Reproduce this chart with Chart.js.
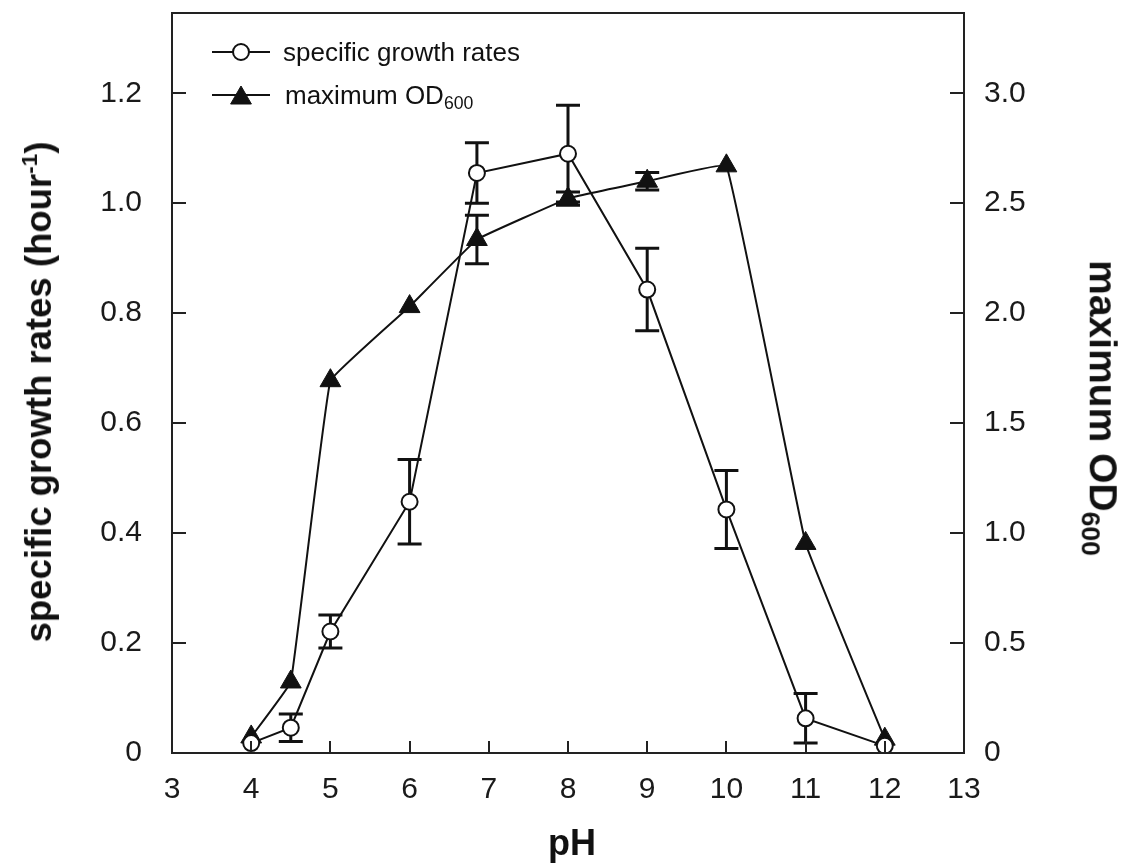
<!DOCTYPE html>
<html><head><meta charset="utf-8">
<script src="https://cdn.jsdelivr.net/npm/chart.js@4.4.1/dist/chart.umd.min.js"></script>
<style>
html,body{margin:0;padding:0;background:#fff;}
#wrap{position:relative;width:1128px;height:865px;overflow:hidden;background:#fff;}
#c{position:absolute;left:0;top:0;}
.t{position:absolute;font-family:"Liberation Sans",Arial,sans-serif;color:#111;white-space:nowrap;line-height:1;}
.ytitle{font-weight:bold;font-size:36.5px;left:38px;top:392px;transform:translate(-50%,-50%) rotate(-90deg);}
.y2title{font-weight:bold;font-size:39px;left:1100px;top:408px;transform:translate(-50%,-50%) rotate(90deg);}
.xtitle{font-weight:bold;font-size:36px;left:572px;top:843px;transform:translate(-50%,-50%);}
.leg{font-size:26px;left:283px;}
sup{font-size:62%;vertical-align:0.6em;}
sub{font-size:68%;vertical-align:-0.3em;}
</style></head>
<body>
<div id="wrap">
<canvas id="c" width="1128" height="865"></canvas>
<div class="t ytitle">specific growth rates (hour<sup>-1</sup>)</div>
<div class="t y2title">maximum OD<sub>600</sub></div>
<div class="t xtitle">pH</div>
<div class="t leg" style="top:39px;">specific growth rates</div>
<div class="t leg" style="top:82px;left:285px;">maximum OD<sub>600</sub></div>
</div>
<script>
// ---- data ----
const phValues = [4, 4.5, 5, 6, 6.85, 8, 9, 10, 11, 12];
const growthRate = [0.018, 0.046, 0.221, 0.457, 1.055, 1.090, 0.843, 0.443, 0.063, 0.013];
const growthRateErr = [0, 0.025, 0.03, 0.077, 0.055, 0.088, 0.075, 0.071, 0.045, 0];
const maxOD = [0.073, 0.323, 1.693, 2.03, 2.335, 2.521, 2.60, 2.67, 0.953, 0.063];
const maxODErr = [0, 0, 0, 0, 0.11, 0.03, 0.04, 0, 0, 0];
const xTicks = [3, 4, 5, 6, 7, 8, 9, 10, 11, 12, 13];
const yTicks = [0, 0.2, 0.4, 0.6, 0.8, 1.0, 1.2];
const y2Ticks = [0, 0.5, 1.0, 1.5, 2.0, 2.5, 3.0];

const FONT = '"Liberation Sans", Arial, sans-serif';
const INK = '#111';

const errorBars = {
  id: 'errorBars',
  beforeDatasetsDraw(chart) {
    const ctx = chart.ctx;
    const x = chart.scales.x;
    const sets = [
      {vals: growthRate, err: growthRateErr, s: chart.scales.y},
      {vals: maxOD, err: maxODErr, s: chart.scales.y2}
    ];
    ctx.save();
    ctx.strokeStyle = INK;
    ctx.lineWidth = 3;
    sets.forEach(d => {
      d.vals.forEach((v, i) => {
        const e = d.err[i];
        if (!e) return;
        const px = x.getPixelForValue(phValues[i]);
        const top = d.s.getPixelForValue(v + e);
        const bot = d.s.getPixelForValue(v - e);
        ctx.beginPath();
        ctx.moveTo(px, top); ctx.lineTo(px, bot);
        ctx.moveTo(px - 12, top); ctx.lineTo(px + 12, top);
        ctx.moveTo(px - 12, bot); ctx.lineTo(px + 12, bot);
        ctx.stroke();
      });
    });
    ctx.restore();
  }
};

const frame = {
  id: 'frame',
  afterDraw(chart) {
    const ctx = chart.ctx;
    const a = chart.chartArea;
    const x = chart.scales.x, y = chart.scales.y, y2 = chart.scales.y2;
    ctx.save();
    ctx.strokeStyle = '#222';
    ctx.lineWidth = 2;
    ctx.strokeRect(a.left, a.top, a.right - a.left, a.bottom - a.top);
    ctx.beginPath();
    xTicks.forEach(t => {
      if (t === xTicks[0] || t === xTicks[xTicks.length - 1]) return;
      const px = Math.round(x.getPixelForValue(t));
      ctx.moveTo(px, a.bottom); ctx.lineTo(px, a.bottom - 12);
    });
    yTicks.forEach(t => {
      if (t === 0) return;
      const py = Math.round(y.getPixelForValue(t));
      ctx.moveTo(a.left, py); ctx.lineTo(a.left + 14, py);
    });
    y2Ticks.forEach(t => {
      if (t === 0) return;
      const py = Math.round(y2.getPixelForValue(t));
      ctx.moveTo(a.right, py); ctx.lineTo(a.right - 14, py);
    });
    ctx.stroke();
    // legend symbols
    ctx.strokeStyle = INK;
    ctx.lineWidth = 2;
    ctx.beginPath();
    ctx.moveTo(212, 52); ctx.lineTo(270, 52);
    ctx.moveTo(212, 95); ctx.lineTo(270, 95);
    ctx.stroke();
    ctx.fillStyle = '#fff'; ctx.strokeStyle = INK; ctx.lineWidth = 2;
    ctx.beginPath(); ctx.arc(241, 52, 8, 0, Math.PI * 2); ctx.fill(); ctx.stroke();
    ctx.fillStyle = INK; ctx.lineWidth = 1;
    Chart.helpers.drawPoint(ctx, {pointStyle: 'triangle', radius: 12, borderWidth: 1}, 241, 98);
    ctx.restore();
  }
};

function fixPad(s) {
  s.paddingTop = 0; s.paddingBottom = 0; s.paddingLeft = 0; s.paddingRight = 0;
}

new Chart(document.getElementById('c'), {
  type: 'line',
  data: {
    datasets: [
      {
        label: 'specific growth rates',
        data: phValues.map((p, i) => ({x: p, y: growthRate[i]})),
        yAxisID: 'y',
        borderColor: INK, borderWidth: 2, tension: 0,
        pointStyle: 'circle', pointRadius: 8, pointBorderWidth: 2,
        pointBackgroundColor: '#fff', pointBorderColor: INK,
        order: 0
      },
      {
        label: 'maximum OD600',
        data: phValues.map((p, i) => ({x: p, y: maxOD[i]})),
        yAxisID: 'y2',
        borderColor: INK, borderWidth: 2, tension: 0.06,
        pointStyle: 'triangle', pointRadius: 12, pointBorderWidth: 1,
        pointBackgroundColor: INK, pointBorderColor: INK,
        order: 1
      }
    ]
  },
  options: {
    responsive: false,
    animation: false,
    devicePixelRatio: 1,
    layout: {padding: {top: 13, left: 0, right: 0, bottom: 0}},
    plugins: {legend: {display: false}, tooltip: {enabled: false}},
    scales: {
      x: {
        type: 'linear', position: 'bottom', min: 3, max: 13,
        afterFit(s) { s.height = 112; fixPad(s); },
        afterBuildTicks(s) { s.ticks = xTicks.map(v => ({value: v})); },
        ticks: {autoSkip: false, maxRotation: 0, padding: 19, color: '#1a1a1a',
          font: {family: FONT, size: 30}, callback: v => String(v)},
        grid: {display: false, drawTicks: false},
        border: {display: false}
      },
      y: {
        type: 'linear', position: 'left', min: 0, max: 1.346,
        afterFit(s) { s.width = 172; fixPad(s); },
        afterBuildTicks(s) { s.ticks = yTicks.map(v => ({value: v})); },
        ticks: {padding: 30, color: '#1a1a1a', font: {family: FONT, size: 30},
          callback: v => v === 0 ? '0' : v.toFixed(1)},
        grid: {display: false, drawTicks: false},
        border: {display: false}
      },
      y2: {
        type: 'linear', position: 'right', min: 0, max: 3.365,
        afterFit(s) { s.width = 164; fixPad(s); },
        afterBuildTicks(s) { s.ticks = y2Ticks.map(v => ({value: v})); },
        ticks: {padding: 20, color: '#1a1a1a', font: {family: FONT, size: 30},
          callback: v => v === 0 ? '0' : v.toFixed(1)},
        grid: {display: false, drawTicks: false},
        border: {display: false}
      }
    }
  },
  plugins: [errorBars, frame]
});
</script>
</body></html>
